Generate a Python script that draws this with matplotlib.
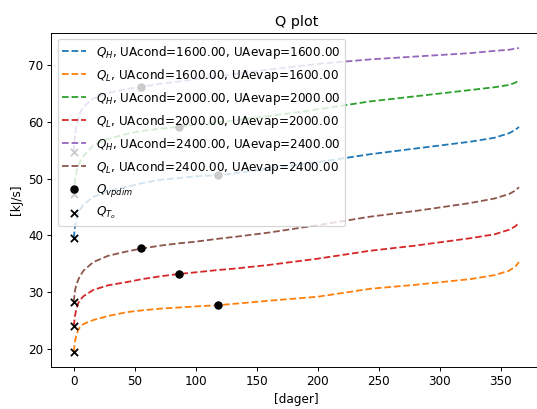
import matplotlib
matplotlib.use("Agg")
import matplotlib.pyplot as plt
import numpy as np

# Days
days = [0, 1, 2, 3.5, 5, 8, 16, 28, 44, 56, 71, 86, 100, 118, 134,
        160, 200, 243, 280, 325, 345, 357, 362, 365]

UA_values = [1600, 2000, 2400]

# Q_H and Q_L for each UA (kJ/s)
QH_1600 = [39.5, 41.5, 42.6, 43.8, 44.5, 45.4, 46.8, 47.8, 48.6, 49.2, 49.8, 50.1,
           50.4, 50.6, 51.0, 51.8, 52.9, 54.3, 55.3, 56.5, 57.2, 58.0, 58.6, 59.1]
QL_1600 = [19.5, 21.3, 22.3, 23.3, 23.8, 24.4, 25.1, 25.8, 26.5, 26.8, 27.1, 27.3,
           27.5, 27.7, 28.0, 28.5, 29.2, 30.6, 31.3, 32.3, 33.0, 33.8, 34.5, 35.3]
QH_2000 = [47.3, 49.7, 51.0, 52.1, 52.9, 54.0, 55.9, 57.0, 57.9, 58.4, 58.8, 59.1,
           59.5, 59.9, 60.3, 61.0, 62.2, 63.6, 64.5, 65.6, 66.1, 66.5, 66.9, 67.3]
QL_2000 = [24.0, 25.8, 26.9, 28.0, 28.6, 29.3, 30.4, 31.2, 31.8, 32.3, 32.8, 33.2,
           33.5, 33.9, 34.2, 34.8, 35.9, 37.3, 38.2, 39.5, 40.2, 41.0, 41.6, 42.2]
QH_2400 = [54.7, 57.5, 59.0, 60.5, 61.5, 62.7, 64.1, 65.1, 65.8, 66.2, 66.7, 67.1,
           67.5, 68.0, 68.5, 69.2, 70.2, 71.0, 71.5, 72.1, 72.5, 72.7, 72.9, 73.0]
QL_2400 = [28.3, 30.3, 31.2, 32.1, 32.8, 33.8, 35.3, 36.4, 37.2, 37.7, 38.2, 38.6,
           38.9, 39.4, 39.8, 40.5, 41.8, 43.3, 44.3, 45.7, 46.5, 47.3, 47.9, 48.5]

QH_all = [QH_1600, QH_2000, QH_2400]
QL_all = [QL_1600, QL_2000, QL_2400]

# Dimensioning points
vpdim_days = [118, 118, 86, 86, 55, 55]
vpdim_Q = [50.6, 27.7, 59.1, 33.2, 66.2, 37.7]

# Points at T_o
To_days = [0, 0, 0, 0, 0, 0]
To_Q = [39.5, 19.5, 47.3, 24.0, 54.7, 28.3]

DPI = 86.5


def main():

    fig = plt.figure(figsize=(537 / DPI, 409 / DPI), dpi=DPI)
    ax = fig.add_axes([0.0959, 0.1027, 0.912, 0.817])

    for UA, QH, QL in zip(UA_values, QH_all, QL_all):
        ax.plot(days, QH, "--",
                label=rf"$Q_H$, UAcond={UA:.2f}, UAevap={UA:.2f}")
        ax.plot(days, QL, "--",
                label=rf"$Q_L$, UAcond={UA:.2f}, UAevap={UA:.2f}")

    ax.scatter(vpdim_days, vpdim_Q, color="black", marker="o",
               label=r"$Q_{vpdim}$", zorder=3)
    ax.scatter(To_days, To_Q, color="black", marker="x",
               label=r"$Q_{T_o}$", zorder=3)

    ax.set_title("Q plot")
    ax.set_xlabel("[dager]")
    ax.set_ylabel("[kJ/s]")
    ax.legend(loc="upper left")

    fig.savefig("out.png", dpi=DPI)


if __name__ == "__main__":
    main()
